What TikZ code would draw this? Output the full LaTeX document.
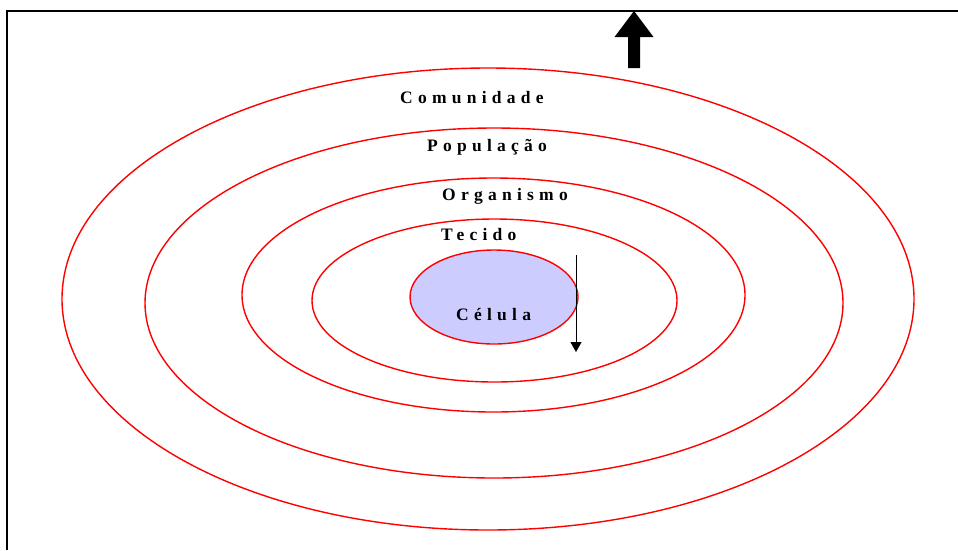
\documentclass[tikz,border=0pt]{standalone}
\usepackage{fontspec}
\setmainfont{Liberation Serif}
\newfontfamily\levelfont[LetterSpace=30]{Liberation Serif}
\usetikzlibrary{arrows.meta, shapes.geometric}
\definecolor{cellfill}{HTML}{CCCCFF}
\tikzset{
  ring/.style={draw=red, line width=1.4pt, ellipse, inner sep=0pt},
  level/.style={font=\levelfont\bfseries\fontsize{17.5}{17.5}\selectfont, anchor=base west, inner sep=0pt},
  frame/.style={line width=2.2pt, black},
}
\begin{document}
\begin{tikzpicture}[x=1pt, y=-1pt]
  \useasboundingbox (0,0) rectangle (958,550);
  % open frame: top and left edges only
  \draw[frame] (7,550) -- (7,11) -- (958,11);
  % nested levels of organisation
  \node[ring, minimum width=852pt, minimum height=462pt] (comunidade) at (488,299) {};
  \node[ring, minimum width=698pt, minimum height=350pt] (populacao) at (494,303) {};
  \node[ring, minimum width=503pt, minimum height=234pt] (organismo) at (493.5,295) {};
  \node[ring, minimum width=365pt, minimum height=163pt] (tecido) at (494.5,300.5) {};
  \node[ring, fill=cellfill, minimum width=168pt, minimum height=94pt] (celula) at (494,297) {};
  % labels
  \node[level] (tComunidade) at (400,103) {Comunidade};
  \node[level] (tPopulacao) at (427,151) {População};
  \node[level] (tOrganismo) at (442,200) {Organismo};
  \node[level] (tTecido) at (441,240) {Tecido};
  \node[level] (tCelula) at (456,320) {Célula};
  % downward arrow beside the cell
  \coordinate (dTop) at (576,255);
  \coordinate (dTip) at (576,352);
  \draw[line width=1pt, -{Triangle[length=10pt, width=11pt]}] (dTop) -- (dTip);
  % block arrow pointing up
  \coordinate (uTip) at (634,11);
  \fill[black] (628,68) -- (640,68) -- (640,37) -- (653.5,37) -- (uTip) -- (614.5,37) -- (628,37) -- cycle;
\end{tikzpicture}
\end{document}
